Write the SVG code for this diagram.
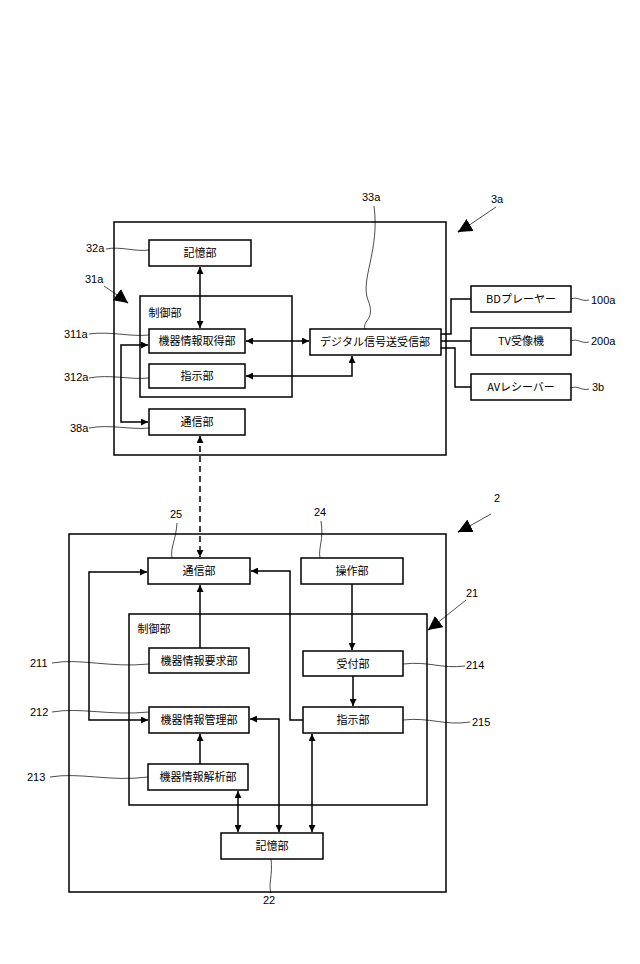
<svg xmlns="http://www.w3.org/2000/svg" width="640" height="964" viewBox="0 0 640 964">
<style>
.b{fill:#fff;stroke:#000;stroke-width:1.5}
.t{font-family:"Noto Sans CJK JP","Liberation Sans",sans-serif;font-size:11px;text-anchor:middle;fill:#000}
.l{font-family:"Liberation Sans",sans-serif;font-size:11px;fill:#000}
.c{fill:none;stroke:#000;stroke-width:1.5}
.w{fill:none;stroke:#000;stroke-width:0.7}
</style>
<defs>
<marker id="a" viewBox="0 0 10 10" refX="10" refY="5" markerWidth="7" markerHeight="7" orient="auto-start-reverse" markerUnits="userSpaceOnUse"><path d="M0,0L10,5L0,10z"/></marker>
<marker id="A" viewBox="0 0 10 10" refX="10" refY="5" markerWidth="14" markerHeight="14" orient="auto" markerUnits="userSpaceOnUse"><path d="M0,0L10,5L0,10z"/></marker>
</defs>
<rect width="640" height="964" fill="#fff"/>
<g id="dev3a"><rect class="b" x="114" y="222" width="332" height="233"/></g>
<g id="ctrl31a"><rect class="b" x="140" y="296" width="152" height="101"/><text class="t" x="165" y="317">制御部</text></g>
<g id="n32a"><rect class="b" x="149" y="240" width="102" height="26"/><text class="t" x="200" y="257">記憶部</text></g>
<g id="n311a"><rect class="b" x="149" y="329" width="96" height="24"/><text class="t" x="197" y="345">機器情報取得部</text></g>
<g id="n312a"><rect class="b" x="149" y="364" width="96" height="24"/><text class="t" x="197" y="380">指示部</text></g>
<g id="n38a"><rect class="b" x="149" y="409" width="96" height="26"/><text class="t" x="197" y="426">通信部</text></g>
<g id="n33a"><rect class="b" x="310" y="329" width="131" height="26"/><text class="t" x="375" y="346">デジタル信号送受信部</text></g>
<g id="n100a"><rect class="b" x="471" y="286" width="100" height="26"/><text class="t" x="521" y="303">BDプレーヤー</text></g>
<g id="n200a"><rect class="b" x="471" y="328" width="100" height="27"/><text class="t" x="521" y="345">TV受像機</text></g>
<g id="n3b"><rect class="b" x="471" y="374" width="100" height="26"/><text class="t" x="521" y="391">AVレシーバー</text></g>
<g id="dev2"><rect class="b" x="69" y="534" width="377" height="358"/></g>
<g id="ctrl21"><rect class="b" x="129" y="614" width="298" height="191"/><text class="t" x="154" y="633">制御部</text></g>
<g id="n25"><rect class="b" x="148" y="558" width="102" height="26"/><text class="t" x="199" y="575">通信部</text></g>
<g id="n24"><rect class="b" x="301" y="558" width="102" height="26"/><text class="t" x="352" y="575">操作部</text></g>
<g id="n211"><rect class="b" x="149" y="648" width="100" height="25"/><text class="t" x="199" y="665">機器情報要求部</text></g>
<g id="n212"><rect class="b" x="149" y="707" width="100" height="26"/><text class="t" x="199" y="724">機器情報管理部</text></g>
<g id="n213"><rect class="b" x="148" y="764" width="100" height="26"/><text class="t" x="198" y="781">機器情報解析部</text></g>
<g id="n214"><rect class="b" x="303" y="651" width="100" height="25"/><text class="t" x="353" y="668">受付部</text></g>
<g id="n215"><rect class="b" x="303" y="707" width="100" height="26"/><text class="t" x="353" y="724">指示部</text></g>
<g id="n22"><rect class="b" x="221" y="833" width="102" height="26"/><text class="t" x="272" y="850">記憶部</text></g>
<g id="connectors">
<path class="c" d="M200,267V328" marker-start="url(#a)" marker-end="url(#a)"/>
<path class="c" d="M246,341H309" marker-start="url(#a)" marker-end="url(#a)"/>
<path class="c" d="M246,376H352V356" marker-start="url(#a)" marker-end="url(#a)"/>
<path class="c" d="M148,345H121V422H148" marker-start="url(#a)" marker-end="url(#a)"/>
<path class="c" d="M441,334H451V299H471M441,341H471M441,348H455V387H471"/>
<path class="c" d="M200,436V557" stroke-dasharray="6,4" marker-start="url(#a)" marker-end="url(#a)"/>
<path class="c" d="M147,572H89V720H148" marker-start="url(#a)" marker-end="url(#a)"/>
<path class="c" d="M200,648V585" marker-end="url(#a)"/>
<path class="c" d="M303,720H290V571H251" marker-end="url(#a)"/>
<path class="c" d="M352,584V650" marker-end="url(#a)"/>
<path class="c" d="M353,676V706" marker-end="url(#a)"/>
<path class="c" d="M200,764V734" marker-end="url(#a)"/>
<path class="c" d="M238,791V832" marker-start="url(#a)" marker-end="url(#a)"/>
<path class="c" d="M250,719H279V832" marker-start="url(#a)" marker-end="url(#a)"/>
<path class="c" d="M312,734V832" marker-start="url(#a)" marker-end="url(#a)"/>
<path class="w" d="M496,207L465,228"/><path class="c" d="M470,225L458,232" marker-end="url(#A)"/>
<path class="w" d="M104,286L120,297"/><path class="c" d="M120,297L128,303" marker-end="url(#A)"/>
<path class="w" d="M491,514L466,528"/><path class="c" d="M466,528L458,532" marker-end="url(#A)"/>
<path class="w" d="M466,600L436,624"/><path class="c" d="M436,624L428,630" marker-end="url(#A)"/>
</g>
<g id="labels">
<text class="l" x="362" y="201">33a</text>
<path class="w" d="M374,206C380,250 360,280 368,300S362,320 365,329"/>
<text class="l" x="491" y="203">3a</text>
<text class="l" x="86" y="252">32a</text><path class="w" d="M106,249C120,246 135,252 149,250"/>
<text class="l" x="85" y="283">31a</text>
<text class="l" x="64" y="338">311a</text><path class="w" d="M89,334C110,331 130,337 149,335"/>
<text class="l" x="64" y="381">312a</text><path class="w" d="M89,378C110,374 130,380 149,378"/>
<text class="l" x="70" y="432">38a</text><path class="w" d="M89,428C110,424 130,430 149,428"/>
<text class="l" x="591" y="304">100a</text><path class="w" d="M571,299C578,296 581,302 589,300"/>
<text class="l" x="591" y="345">200a</text><path class="w" d="M571,341C578,338 581,344 589,342"/>
<text class="l" x="592" y="391">3b</text><path class="w" d="M571,388C578,385 581,391 589,389"/>
<text class="l" x="170" y="518">25</text><path class="w" d="M177,523C176,540 170,548 172,558"/>
<text class="l" x="314" y="516">24</text><path class="w" d="M321,521C324,540 318,548 320,558"/>
<text class="l" x="494" y="502">2</text>
<text class="l" x="466" y="597">21</text>
<text class="l" x="30" y="667">211</text><path class="w" d="M52,663C80,658 110,668 149,664"/>
<text class="l" x="30" y="716">212</text><path class="w" d="M52,712C80,707 110,716 149,712"/>
<text class="l" x="27" y="781">213</text><path class="w" d="M50,777C80,772 110,782 148,777"/>
<text class="l" x="466" y="669">214</text><path class="w" d="M403,664C430,661 440,669 465,666"/>
<text class="l" x="472" y="726">215</text><path class="w" d="M403,720C430,717 445,726 470,722"/>
<text class="l" x="263" y="904">22</text><path class="w" d="M271,859C273,875 268,885 271,893"/>
</g>
</svg>
